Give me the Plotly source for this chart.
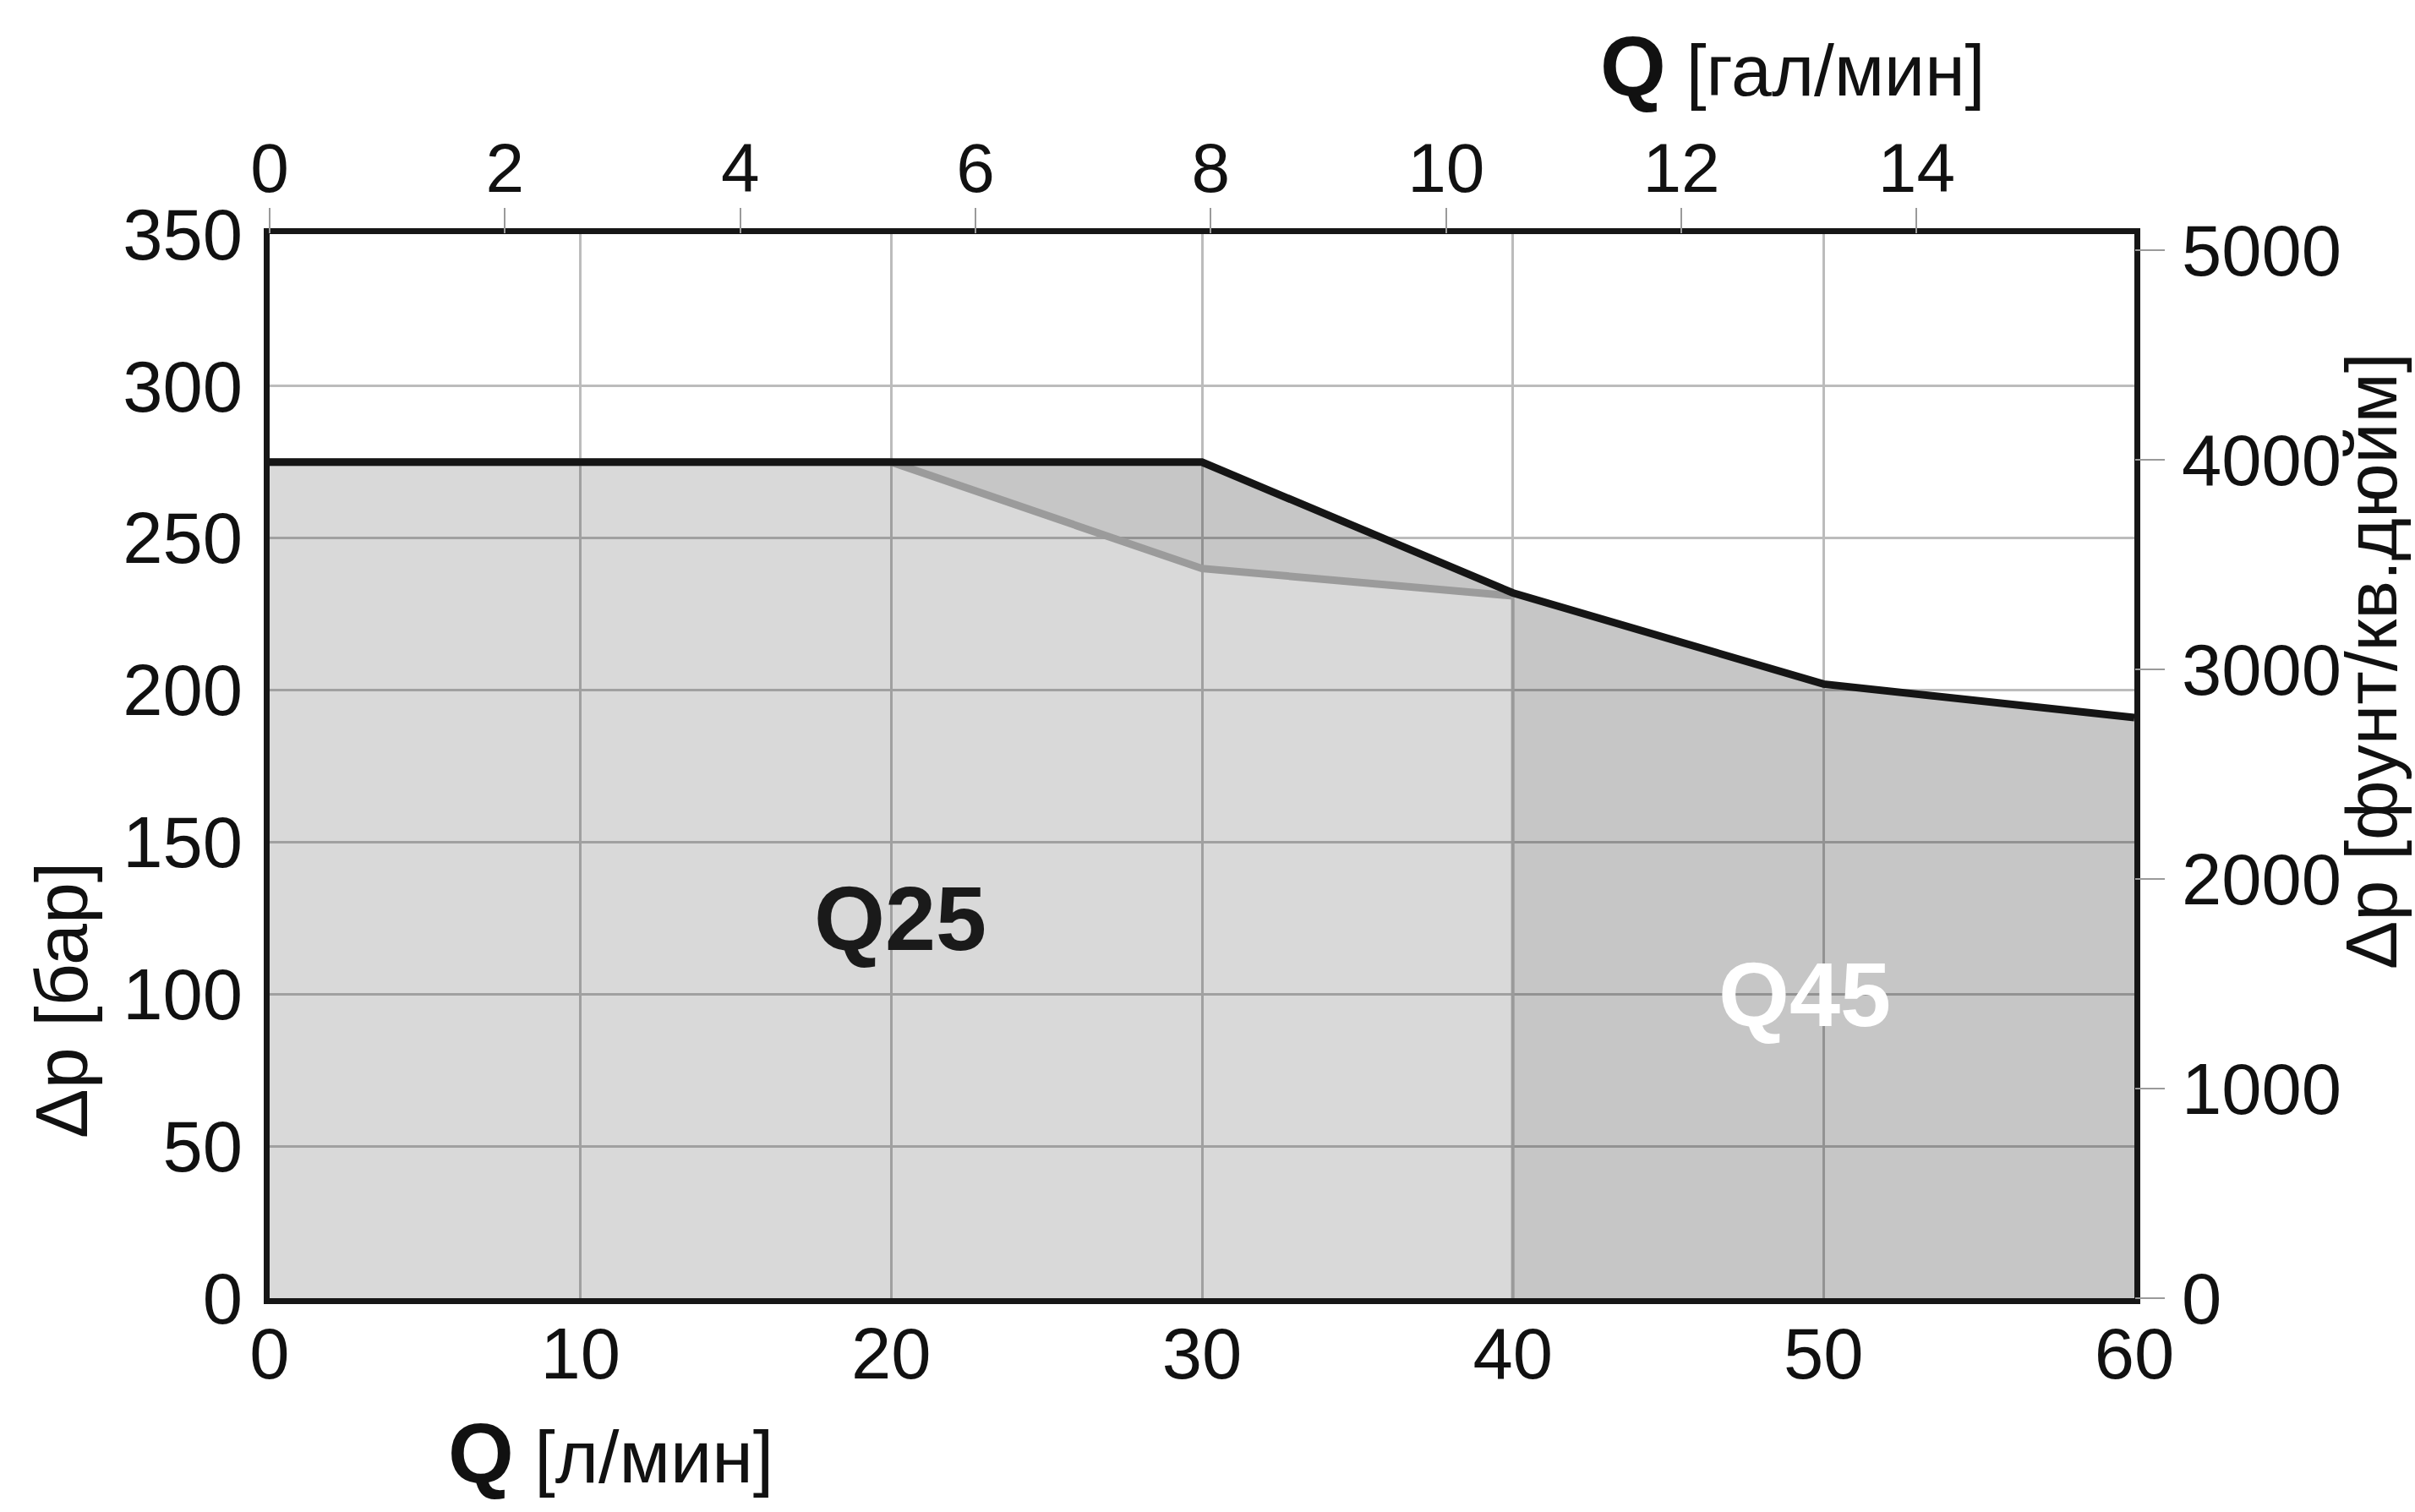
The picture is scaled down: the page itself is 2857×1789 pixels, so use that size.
import plotly.graph_objects as go

# Flow (l/min) and pressure drop (bar) for the two valve sizes
q25_flow = [0, 20, 30, 40]
q25_dp = [275, 275, 240, 231]
q45_flow = [0, 30, 40, 50, 60]
q45_dp = [275, 275, 232, 202, 191]

# Axis ticks
x_ticks = [0, 10, 20, 30, 40, 50, 60]
y_ticks = [0, 50, 100, 150, 200, 250, 300, 350]
gpm_ticks = [0, 2, 4, 6, 8, 10, 12, 14]
psi_ticks = [0, 1000, 2000, 3000, 4000, 5000]

L_PER_GAL = 3.785411784
PSI_PER_BAR = 14.5038
X_MAX = 60
Y_MAX = 350

FONT = "Liberation Sans, Arial, sans-serif"
W, H = 2857, 1789
M_L, M_R, M_T, M_B = 319, 332, 277, 253

fig = go.Figure()

# Region covered only by Q45: under the Q45 curve, above the Q25 curve
q45_only_x = q45_flow + [q45_flow[-1], q25_flow[-1]] + q25_flow[::-1]
q45_only_y = q45_dp + [0, 0] + q25_dp[::-1]
fig.add_trace(go.Scatter(
    x=q45_only_x, y=q45_only_y, mode="lines", fill="toself",
    fillcolor="rgba(0,0,0,0.225)", line=dict(width=0),
    hoverinfo="skip", showlegend=False))

# Region covered by Q25
q25_area_x = q25_flow + [q25_flow[-1], q25_flow[0]]
q25_area_y = q25_dp + [0, 0]
fig.add_trace(go.Scatter(
    x=q25_area_x, y=q25_area_y, mode="lines", fill="toself",
    fillcolor="rgba(0,0,0,0.15)", line=dict(width=0),
    hoverinfo="skip", showlegend=False))

# Right edge of the Q25 region
fig.add_trace(go.Scatter(
    x=[q25_flow[-1], q25_flow[-1]], y=[q25_dp[-1], 0], mode="lines",
    line=dict(color="#9a9a9a", width=4), hoverinfo="skip", showlegend=False))

# Limit curves
fig.add_trace(go.Scatter(
    x=q25_flow, y=q25_dp, mode="lines", name="Q25",
    line=dict(color="#9b9b9b", width=9), showlegend=False))
fig.add_trace(go.Scatter(
    x=q45_flow, y=q45_dp, mode="lines", name="Q45",
    line=dict(color="#151515", width=9), showlegend=False))

# Same Q45 curve in US units, drives the secondary axes
fig.add_trace(go.Scatter(
    x=[q / L_PER_GAL for q in q45_flow], y=[p * PSI_PER_BAR for p in q45_dp],
    xaxis="x2", yaxis="y2", mode="lines",
    line=dict(color="rgba(0,0,0,0)", width=0),
    hoverinfo="skip", showlegend=False))

tick_font = dict(family=FONT, size=85, color="#111111")

fig.update_layout(
    width=W, height=H,
    margin=dict(l=M_L, r=M_R, t=M_T, b=M_B, pad=0),
    paper_bgcolor="white", plot_bgcolor="white",
    font=dict(family=FONT, color="#111111"),
    xaxis=dict(
        range=[0, X_MAX], tickvals=x_ticks, ticks="", showgrid=True,
        gridcolor="#bcbcbc", gridwidth=2.5, zeroline=False,
        showline=True, linecolor="#161616", linewidth=7, mirror=True,
        tickfont=tick_font, ticklabelstandoff=-14),
    yaxis=dict(
        range=[0, Y_MAX], tickvals=y_ticks, ticks="", showgrid=True,
        gridcolor="#bcbcbc", gridwidth=2.5, zeroline=False,
        showline=True, linecolor="#161616", linewidth=7, mirror=True,
        tickfont=tick_font, ticklabelstandoff=8),
    xaxis2=dict(
        overlaying="x", side="top", range=[0, X_MAX / L_PER_GAL],
        tickvals=gpm_ticks, ticks="outside", ticklen=30, tickwidth=2,
        tickcolor="#9a9a9a", showgrid=False, zeroline=False, showline=False,
        tickfont=dict(family=FONT, size=82, color="#111111"),
        ticklabelstandoff=-14),
    yaxis2=dict(
        overlaying="y", side="right", range=[0, Y_MAX * PSI_PER_BAR],
        tickvals=psi_ticks, ticks="outside", ticklen=35, tickwidth=2,
        tickcolor="#9a9a9a", showgrid=False, zeroline=False, showline=False,
        tickfont=tick_font, ticklabelstandoff=3),
)

annotations = [
    # axis titles
    dict(text="<b style='font-size:100px'>Q</b> [л/мин]",
         x=0.1827, y=-0.145, xref="paper", yref="paper",
         xanchor="center", yanchor="middle", font=dict(size=88)),
    dict(text="<b style='font-size:100px'>Q</b> [гал/мин]",
         x=0.817, y=1.158, xref="paper", yref="paper",
         xanchor="center", yanchor="middle", font=dict(size=86)),
    dict(text="Δp [бар]", textangle=-90,
         x=-0.1115, y=0.2796, xref="paper", yref="paper",
         xanchor="center", yanchor="middle", font=dict(size=88)),
    dict(text="Δp [фунт/кв.дюйм]", textangle=-90,
         x=1.127, y=0.599, xref="paper", yref="paper",
         xanchor="center", yanchor="middle", font=dict(size=86)),
    # region labels
    dict(text="<b>Q25</b>", x=20.3, y=125, xref="x", yref="y",
         showarrow=False, font=dict(size=108, color="#1a1a1a")),
    dict(text="<b>Q45</b>", x=49.4, y=100, xref="x", yref="y",
         showarrow=False, font=dict(size=108, color="#ffffff")),
]
for a in annotations:
    a.setdefault("showarrow", False)
    fig.add_annotation(**a)

fig.write_html("out.html")
